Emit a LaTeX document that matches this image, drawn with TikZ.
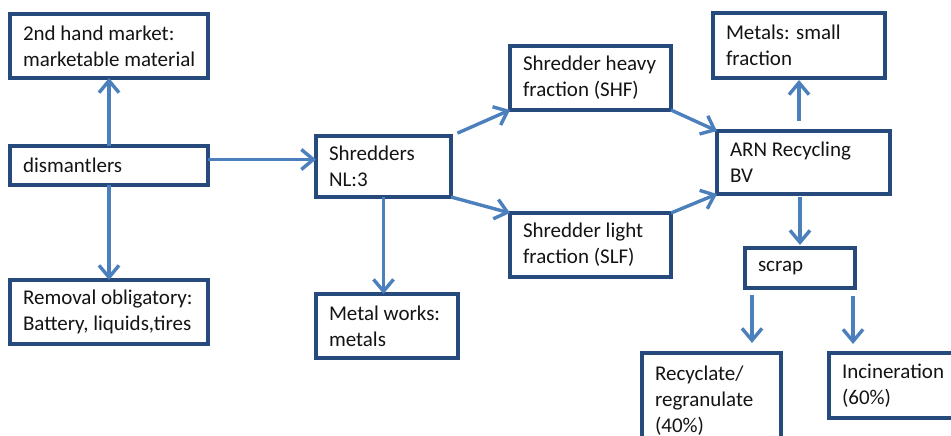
\documentclass[tikz,border=0pt]{standalone}
\usepackage{fontspec}
\setmainfont{Carlito}
\usetikzlibrary{arrows.meta,calc}

\definecolor{boxline}{HTML}{264A7C}
\definecolor{flowline}{HTML}{4C80BD}
\definecolor{txt}{HTML}{141414}

\tikzset{
  box/.style 2 args={draw=boxline, line width=3.4pt, fill=white, rectangle,
    anchor=north west, outer sep=0pt, inner xsep=7pt, inner ysep=0pt,
    align=flush left, text width={#1-14pt}, minimum height=#2, text=txt,
    font=\fontsize{21}{26}\selectfont,
    execute at begin node={\leftskip=6pt\relax}},
  flow/.style={draw=flowline, line width=3.4pt,
    -{Straight Barb[length=12pt, width=20pt, line width=3.4pt]}}
}

\begin{document}
\begin{tikzpicture}[x=1pt, y=-1pt]
  \useasboundingbox (0,0) rectangle (951,436);
  \fill[white] (0,0) rectangle (951,436);
  \clip (0,0) rectangle (951,436);

  % dismantling stage
  \node[box={198pt}{64pt}] (hand) at (10,14) {2nd hand market:\\marketable material};
  \node[box={198pt}{39pt}] (dism) at (10,146) {dismantlers};
  \node[box={198pt}{64pt}] (remov) at (10,280) {Removal obligatory:\\Battery, liquids,tires};

  % shredding stage
  \node[box={135pt}{61pt}] (shred) at (316,136) {Shredders\\NL:3};
  \node[box={142pt}{64pt}] (metalw) at (316,294) {Metal works:\\metals};
  \node[box={161pt}{64pt}] (shf) at (510,46) {Shredder heavy\\fraction (SHF)};
  \node[box={161pt}{64pt}] (slf) at (510,213) {Shredder light\\fraction (SLF)};

  % post-shredder processing
  \node[box={172pt}{65pt}] (metals) at (713,13) {Metals: small\\fraction};
  \node[box={173pt}{63pt}] (arn) at (717,131) {ARN Recycling\\BV};
  \node[box={110pt}{40pt}] (scrap) at (745,248) {scrap};
  \node[box={139pt}{96pt}] (recyc) at (642,353) {Recyclate/\\regranulate\\(40\%)};
  \node[box={135pt}{65pt}] (incin) at (829,353) {Incineration\\(60\%)};

  % material flows
  \draw[flow] (dism.north) -- (hand.south);
  \draw[flow] (dism.south) -- (remov.north);
  \draw[flow] ([yshift=6pt]dism.east) -- ([yshift=6pt]dism.east -| shred.west);
  \draw[flow, shorten <=7pt] (shred.north east) -- (shf.south west);
  \draw[flow] (shred.south east) -- (slf.north west);
  \draw[flow] (shred.south) -- (shred.south |- metalw.north);
  \draw[flow] (shf.south east) -- (arn.north west);
  \draw[flow] (slf.north east) -- (arn.south west);
  \draw[flow, shorten <=10pt, shorten >=2pt] (arn.north -| metals.south) -- (metals.south);
  \draw[flow, shorten <=3pt, shorten >=3pt] (arn.south -| scrap.north) -- (scrap.north);
  \draw[flow, shorten <=7pt, shorten >=10pt] ([xshift=7pt]scrap.south west) -- ([xshift=7pt]scrap.south west |- recyc.north);
  \draw[flow, shorten <=8pt, shorten >=9pt] ([xshift=-2pt]scrap.south east) -- ([xshift=-2pt]scrap.south east |- incin.north);
\end{tikzpicture}
\end{document}
